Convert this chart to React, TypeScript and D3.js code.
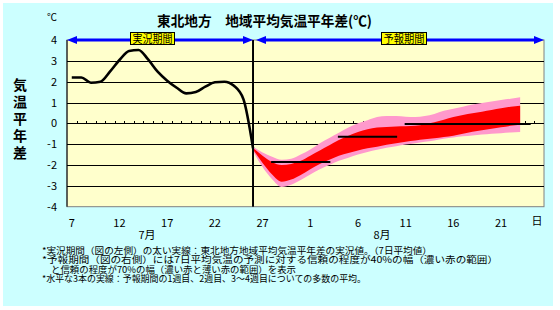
import React from 'react';
import * as d3 from 'd3';

// 7/7 .. 8/25 (50 days)
const dayKeys: string[] = d3.timeDay
  .range(new Date(2024, 6, 7), new Date(2024, 7, 26))
  .map(d => `${d.getMonth() + 1}/${d.getDate()}`);

const tickKeys = ['7/7', '7/12', '7/17', '7/22', '7/27', '8/1', '8/6', '8/11', '8/16', '8/21'];
const tickLabels = ['7', '12', '17', '22', '27', '1', '6', '11', '16', '21'];
const yTicks = [4, 3, 2, 1, 0, -1, -2, -3, -4];
const gridValues = [3, 2, 1, -1, -2, -3];

// observed 7-day mean anomaly, 7/7 .. 7/26
const observed = [2.2, 2.2, 1.95, 2.0, 2.48, 3.04, 3.47, 3.52, 3.07, 2.48, 2.05, 1.71, 1.44, 1.5, 1.76, 1.97, 2.0, 1.8, 1.15, -1.2];

// forecast band 7/26 .. 8/23
const fcStart = '7/26';
const pinkTop = [-1.12, -1.4, -1.6, -1.75, -1.7, -1.5, -1.25, -0.95, -0.7, -0.45, -0.2, 0.0, 0.15, 0.3, 0.35, 0.35, 0.32, 0.3, 0.35, 0.45, 0.6, 0.7, 0.8, 0.9, 0.98, 1.05, 1.12, 1.18, 1.25];
const redTop = [-1.18, -1.55, -1.85, -2.0, -1.95, -1.8, -1.55, -1.3, -1.05, -0.8, -0.6, -0.42, -0.28, -0.2, -0.17, -0.15, -0.14, -0.12, -0.05, 0.05, 0.17, 0.3, 0.4, 0.48, 0.56, 0.64, 0.72, 0.8, 0.85];
const redBot = [-1.26, -1.9, -2.45, -2.8, -2.7, -2.48, -2.2, -1.95, -1.75, -1.55, -1.42, -1.3, -1.2, -1.12, -1.03, -0.95, -0.88, -0.82, -0.76, -0.72, -0.66, -0.6, -0.5, -0.4, -0.33, -0.26, -0.19, -0.12, -0.07];
const pinkBot = [-1.34, -2.1, -2.68, -3.05, -2.95, -2.72, -2.45, -2.2, -2.0, -1.8, -1.65, -1.5, -1.38, -1.27, -1.17, -1.1, -1.02, -0.95, -0.88, -0.82, -0.74, -0.68, -0.62, -0.58, -0.54, -0.5, -0.47, -0.44, -0.42];

// weekly means
const weekStarts = ['7/28', '8/4', '8/11'];
const weekEnds = ['8/3', '8/10', '8/24'];
const weekMeans = [-1.85, -0.64, -0.03];

const notes = [
  '*実況期間（図の左側）の太い実線：東北地方地域平均気温平年差の実況値。（7日平均値）',
  '*予報期間（図の右側）には7日平均気温の予測に対する信頼の程度が40%の幅（濃い赤の範囲）',
  'と信頼の程度が70%の幅（濃い赤と薄い赤の範囲）を表示',
  '*水平な3本の実線：予報期間の1週目、2週目、3～4週目についての多数の平均。',
];
const noteX = [42, 42, 51, 42];
const noteLen = [390, 456, 245, 324];

const FONT = '"Noto Sans CJK JP", "Noto Sans", sans-serif';

export default function App() {
  const left = 67, right = 544, top = 40, bottom = 206.7;
  const x = d3.scaleBand<string>().domain(dayKeys).range([left, right]).padding(0);
  const cx = (k: string) => (x(k) as number) + x.bandwidth() / 2;
  const y = d3.scaleLinear().domain([-4, 4]).range([bottom, top]);

  const obsKeys = dayKeys.slice(0, observed.length);
  const obsLine = d3.line<number>()
    .x((_, i) => cx(obsKeys[i]))
    .y(d => y(d))
    .curve(d3.curveMonotoneX);

  const fi = dayKeys.indexOf(fcStart);
  const fcKeys = dayKeys.slice(fi, fi + pinkTop.length);
  const band = (hi: number[], lo: number[]) =>
    d3.area<number>()
      .x((_, i) => cx(fcKeys[i]))
      .y0((_, i) => y(lo[i]))
      .y1((_, i) => y(hi[i]))
      .curve(d3.curveMonotoneX)(hi.map((_, i) => i)) as string;

  const splitX = cx('7/26');

  const arrow = (tipX: number, dir: number) =>
    `M${tipX},${top} L${tipX - dir * 10},${top - 4} L${tipX - dir * 10},${top + 4} Z`;

  return (
    <svg width={560} height={310} style={{ position: 'absolute', left: 0, top: 0 }} fontFamily={FONT}>
      <rect x={0} y={0} width={560} height={310} fill="#ffffff" />
      <rect x={3} y={3} width={550} height={303} fill="#ccffff" />
      <rect x={left} y={top} width={right - left} height={bottom - top} fill="#ffffcc" stroke="#808080" strokeWidth={1} />

      {gridValues.map(v => (
        <line key={v} x1={left} x2={right} y1={Math.round(y(v)) + 0.5} y2={Math.round(y(v)) + 0.5} stroke="#000" strokeWidth={1} />
      ))}
      <line x1={left} x2={right} y1={Math.round(y(0)) + 0.5} y2={Math.round(y(0)) + 0.5} stroke="#000" strokeWidth={1} />
      {dayKeys.slice(1).map(k => (
        <line key={k} x1={Math.round(x(k) as number) + 0.5} x2={Math.round(x(k) as number) + 0.5}
          y1={Math.round(y(0)) - 2} y2={Math.round(y(0)) + 1} stroke="#000" strokeWidth={1} />
      ))}

      <path d={band(pinkTop, pinkBot)} fill="#ff99cc" />
      <path d={band(redTop, redBot)} fill="#ff0000" />

      <path d={obsLine(observed) as string} fill="none" stroke="#000" strokeWidth={2.6} strokeLinejoin="round" />

      {weekMeans.map((v, i) => (
        <line key={i} x1={cx(weekStarts[i]) - 1} x2={cx(weekEnds[i]) + 1} y1={y(v)} y2={y(v)} stroke="#000" strokeWidth={2} />
      ))}

      <line x1={splitX} x2={splitX} y1={top} y2={bottom} stroke="#000" strokeWidth={2} />
      <line x1={left} x2={left} y1={top} y2={bottom} stroke="#000" strokeWidth={1} />

      {/* period arrows */}
      <line x1={left + 6} x2={splitX - 6} y1={top} y2={top} stroke="#0000ff" strokeWidth={3} />
      <line x1={splitX + 8} x2={right - 6} y1={top} y2={top} stroke="#0000ff" strokeWidth={3} />
      <path d={arrow(left, -1)} fill="#0000ff" />
      <path d={arrow(splitX, 1)} fill="#0000ff" />
      <path d={arrow(splitX + 3, -1)} fill="#0000ff" />
      <path d={arrow(right, 1)} fill="#0000ff" />

      <rect x={130.5} y={32.5} width={44} height={12} fill="#ffff00" stroke="#000" strokeWidth={1} />
      <text x={152.5} y={42.5} fontSize={11} textAnchor="middle" textLength={40} lengthAdjust="spacingAndGlyphs">実況期間</text>
      <rect x={381.5} y={32.5} width={45} height={12} fill="#ffff00" stroke="#000" strokeWidth={1} />
      <text x={404} y={42.5} fontSize={11} textAnchor="middle" textLength={41} lengthAdjust="spacingAndGlyphs">予報期間</text>

      {/* title */}
      <text x={157} y={26} fontSize={14} fontWeight="bold" textLength={215} lengthAdjust="spacingAndGlyphs">東北地方　地域平均気温平年差(℃)</text>
      <text x={52} y={21} fontSize={10} textAnchor="middle">℃</text>

      {yTicks.map(v => (
        <text key={v} x={57} y={y(v) + 4} fontSize={11} textAnchor="end">{v}</text>
      ))}
      {['気', '温', '平', '年', '差'].map((c, i) => (
        <text key={c} x={20} y={90 + i * 17} fontSize={14} fontWeight="bold" textAnchor="middle">{c}</text>
      ))}

      {tickKeys.map((k, i) => (
        <text key={k} x={cx(k)} y={227} fontSize={11} textAnchor="middle">{tickLabels[i]}</text>
      ))}
      <text x={537} y={225} fontSize={11} textAnchor="middle">日</text>
      <text x={147} y={239} fontSize={11} textAnchor="middle">7月</text>
      <text x={382} y={239} fontSize={11} textAnchor="middle">8月</text>

      {notes.map((t, i) => (
        <text key={i} x={noteX[i]} y={253.5 + i * 9.5} fontSize={9} textLength={noteLen[i]} lengthAdjust="spacingAndGlyphs">{t}</text>
      ))}
    </svg>
  );
}
